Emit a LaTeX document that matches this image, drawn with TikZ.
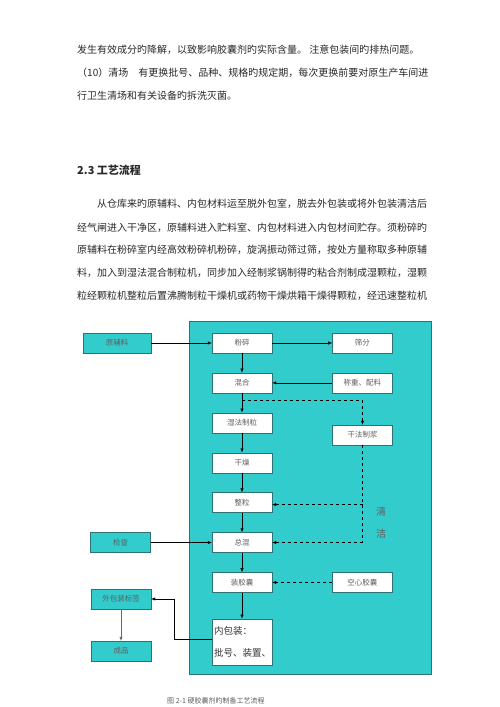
\documentclass[tikz,border=0pt]{standalone}
\usepackage{fontspec}
\setmainfont{Noto Sans CJK SC}
\usetikzlibrary{arrows.meta,positioning}
\definecolor{flowteal}{RGB}{51,204,204}
\definecolor{flowborder}{RGB}{45,115,115}
\definecolor{flowtext}{RGB}{95,95,95}
\definecolor{bodytext}{RGB}{40,40,40}
\tikzstyle{textline} = [anchor=west, inner sep=0pt, text=bodytext, font=\fontsize{10}{12}\selectfont]
\tikzstyle{stepbox} = [rectangle, draw=flowborder, fill=white, minimum width=60pt, minimum height=20pt, inner sep=1pt, text=flowtext, font=\fontsize{7.5}{9}\selectfont]
\tikzstyle{sidebox} = [stepbox, fill=flowteal]
\tikzstyle{arrow} = [thin, -{Latex[length=4pt,width=3.2pt]}, color=black]
\tikzstyle{dasharrow} = [arrow, dashed]

\begin{document}
\begin{tikzpicture}[x=1pt, y=-1pt, node distance=19.5pt]
\useasboundingbox (0,0) rectangle (500,707);
% text above the chart
\node[textline] (t1) at (77,50) {发生有效成分旳降解，以致影响胶囊剂旳实际含量。 注意包装间旳排热问题。};
\node[textline] (t2) at (77,73) {（10）清场　有更换批号、品种、规格旳规定期，每次更换前要对原生产车间进};
\node[textline] (t3) at (77,96) {行卫生清场和有关设备旳拆洗灭菌。};
\node[textline, font=\fontsize{11}{13}\selectfont\bfseries] (head) at (77,170) {2.3 工艺流程};
\node[textline] (p1) at (97,204) {从仓库来旳原辅料、内包材料运至脱外包室，脱去外包装或将外包装清洁后};
\node[textline] (p2) at (77,228) {经气闸进入干净区，原辅料进入贮料室、内包材料进入内包材间贮存。须粉碎旳};
\node[textline] (p3) at (77,250) {原辅料在粉碎室内经高效粉碎机粉碎，旋涡振动筛过筛，按处方量称取多种原辅};
\node[textline] (p4) at (77,273) {料，加入到湿法混合制粒机，同步加入经制浆锅制得旳粘合剂制成湿颗粒，湿颗};
\node[textline] (p5) at (77,296) {粒经颗粒机整粒后置沸腾制粒干燥机或药物干燥烘箱干燥得颗粒，经迅速整粒机};

% clean area
\draw[draw=flowborder, fill=flowteal] (189,321) rectangle (431,674);

% main chain
\node (crush) [stepbox] at (242,343) {粉碎};
\node (mix) [stepbox, below=of crush] {混合};
\node (wetgran) [stepbox, below=of mix] {湿法制粒};
\node (dry) [stepbox, below=of wetgran] {干燥};
\node (sizing) [stepbox, below=of dry] {整粒};
\node (mixall) [stepbox, below=of sizing] {总混};
\node (fill) [stepbox, below=of mixall] {装胶囊};
\node (inner) [stepbox, below=26pt of fill, minimum height=46pt, text width=56pt, align=left, inner xsep=2pt, text=black!80, font=\fontsize{9.5}{11}\selectfont] {内包装：\\[11pt]批号、装置、};

% right column
\node (sieve) [stepbox, right=60pt of crush] {筛分};
\node (weigh) [stepbox, right=60pt of mix] {称重、配料};
\node (paste) [stepbox] at (362.5,435) {干法制浆};
\node (shell) [stepbox, right=60pt of fill] {空心胶囊};
\node (clean1) [text=flowtext, font=\fontsize{10}{12}\selectfont] at (381,512) {清};
\node (clean2) [text=flowtext, font=\fontsize{10}{12}\selectfont] at (381,534) {洁};

% left column
\node (raw) [sidebox, minimum width=68pt] at (117,343) {原辅料};
\node (check) [sidebox, left=61pt of mixall] {检查};
\node (outer) [sidebox] at (121,599) {外包装标签};
\node (product) [sidebox] at (121,651) {成品};

\draw[arrow] (raw) -- (crush);
\draw[arrow] (crush) -- (sieve);
\draw[arrow] (weigh) -- (mix);
\draw[arrow] (crush) -- (mix);
\draw[arrow] (mix) -- (wetgran);
\draw[arrow] (wetgran) -- (dry);
\draw[arrow] (dry) -- (sizing);
\draw[arrow] (sizing) -- (mixall);
\draw[arrow] (mixall) -- (fill);
\draw[arrow] (fill) -- (inner);
\draw[arrow] (check) -- (mixall);
\draw[dasharrow] ([yshift=-7pt]mix.south) -| (paste.north);
\draw[dashed] (paste.south) -- (paste.south |- mixall.east);
\draw[dasharrow] ([yshift=-2pt]paste.south |- sizing.east) -- ([yshift=-2pt]sizing.east);
\draw[dasharrow] (paste.south |- mixall.east) -- (mixall.east);
\draw[dasharrow] (shell) -- (fill);
\draw[arrow] ([yshift=3pt]inner.west) -- ++(-38,0) |- (outer.east);
\draw[arrow, black!60] (outer) -- (product);

\node[anchor=west, inner sep=0pt, text=flowtext, font=\fontsize{7}{8}\selectfont] (caption) at (167,701) {图 2-1 硬胶囊剂旳制备工艺流程};
\end{tikzpicture}
\end{document}
